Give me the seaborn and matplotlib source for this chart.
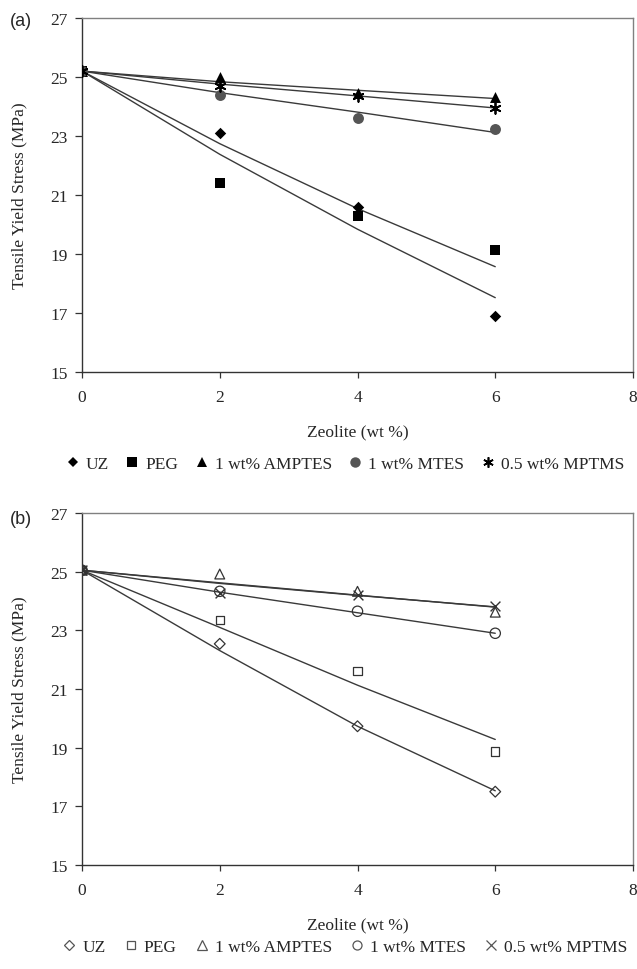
import matplotlib
matplotlib.use("Agg")
import matplotlib.pyplot as plt
from matplotlib.lines import Line2D
import seaborn as sns

# ---------------- data ----------------
zeolite = [0, 2, 4, 6]
x_ticks = [0, 2, 4, 6, 8]
y_ticks = [15, 17, 19, 21, 23, 25, 27]
series_names = ["UZ", "PEG", "1 wt% AMPTES", "1 wt% MTES", "0.5 wt% MPTMS"]

# panel (a) measured points
a_uz = [25.2, 23.1, 20.6, 16.9]
a_peg = [25.2, 21.4, 20.3, 19.15]
a_amptes = [25.2, 25.0, 24.47, 24.33]
a_mtes = [25.2, 24.38, 23.62, 23.23]
a_mptms = [25.2, 24.7, 24.36, 23.95]
# panel (a) trend lines
a_uz_fit = [25.2, 22.38, 19.84, 17.52]
a_peg_fit = [25.2, 22.74, 20.54, 18.57]
a_amptes_fit = [25.2, 24.84, 24.55, 24.27]
a_mtes_fit = [25.2, 24.47, 23.81, 23.12]
a_mptms_fit = [25.2, 24.76, 24.36, 23.95]

# panel (b) measured points
b_uz = [25.05, 22.54, 19.73, 17.5]
b_peg = [25.05, 23.36, 21.62, 18.87]
b_amptes = [25.05, 24.92, 24.33, 23.62]
b_mtes = [25.05, 24.33, 23.65, 22.9]
b_mptms = [25.05, 24.28, 24.2, 23.84]
# panel (b) trend lines
b_uz_fit = [25.05, 22.31, 19.73, 17.53]
b_peg_fit = [25.05, 23.1, 21.13, 19.28]
b_amptes_fit = [25.05, 24.62, 24.2, 23.79]
b_mtes_fit = [25.05, 24.3, 23.6, 22.9]
b_mptms_fit = [25.05, 24.6, 24.19, 23.8]

# ---------------- style ----------------
sns.set_style("white")
plt.rcParams["font.family"] = ["Liberation Serif", "DejaVu Serif"]
FS = 12.5
plt.rcParams["font.size"] = FS

W, H = 637, 970
fig = plt.figure(figsize=(W / 100, H / 100), dpi=100)

def frac_box(left, top, right, bottom):
    return [left / W, 1 - bottom / H, (right - left) / W, (bottom - top) / H]

ax_a = fig.add_axes(frac_box(82, 19, 633, 373))
ax_b = fig.add_axes(frac_box(82, 514, 633, 866))

LINE_C = "#3a3a3a"
STAR = (6, 2, 0)

def style_axes(ax):
    ax.set_xlim(0, 8)
    ax.set_ylim(15, 27)
    ax.set_xticks(x_ticks)
    ax.set_yticks(y_ticks)
    ax.tick_params(axis="x", direction="out", length=4, width=0.9, color="#333", pad=8.5, labelsize=FS)
    ax.tick_params(axis="y", direction="out", length=5, width=0.9, color="#333", pad=5, labelsize=FS)
    ax.tick_params(bottom=True, left=True)
    for s in ["left", "bottom"]:
        ax.spines[s].set_color("#333")
        ax.spines[s].set_linewidth(1.0)
    for s in ["top", "right"]:
        ax.spines[s].set_color("#808080")
        ax.spines[s].set_linewidth(1.0)
    ax.set_xlabel("Zeolite (wt %)", fontsize=FS, labelpad=13)
    ax.set_ylabel("Tensile Yield Stress (MPa)", fontsize=FS)
    ax.yaxis.set_label_coords(-0.099, 0.5)
    ax.grid(False)

# ---------------- panel (a) ----------------
for fit in [a_uz_fit, a_peg_fit, a_amptes_fit, a_mtes_fit, a_mptms_fit]:
    sns.lineplot(x=zeolite, y=fit, color=LINE_C, linewidth=1.0, ax=ax_a)

a_styles = [
    (a_uz, dict(marker="D", s=34, color="black", edgecolor="black", linewidth=0)),
    (a_peg, dict(marker="s", s=48, color="black", edgecolor="black", linewidth=0)),
    (a_amptes, dict(marker="^", s=62, color="black", edgecolor="black", linewidth=0)),
    (a_mtes, dict(marker="o", s=62, color="#555555", edgecolor="#555555", linewidth=0)),
    (a_mptms, dict(marker=STAR, s=60, color="black", linewidth=1.3)),
]
for vals, kw in a_styles:
    sns.scatterplot(x=zeolite, y=vals, ax=ax_a, zorder=3, **kw)

style_axes(ax_a)

# ---------------- panel (b) ----------------
for fit in [b_uz_fit, b_peg_fit, b_amptes_fit, b_mtes_fit, b_mptms_fit]:
    sns.lineplot(x=zeolite, y=fit, color=LINE_C, linewidth=1.0, ax=ax_b)

b_styles = [
    (b_uz, dict(marker="D", s=30, facecolor="none", edgecolor="#333", linewidth=0.9)),
    (b_peg, dict(marker="s", s=34, facecolor="none", edgecolor="#333", linewidth=0.9)),
    (b_amptes, dict(marker="^", s=50, facecolor="none", edgecolor="#333", linewidth=0.9)),
    (b_mtes, dict(marker="o", s=55, facecolor="none", edgecolor="#333", linewidth=0.9)),
    (b_mptms, dict(marker="x", s=50, color="#333", linewidth=1.0)),
]
for vals, kw in b_styles:
    sns.scatterplot(x=zeolite, y=vals, ax=ax_b, zorder=3, **kw)

style_axes(ax_b)

# ---------------- legends ----------------
def legend_handles(filled):
    if filled:
        specs = [("D", "black", "black", 5.5), ("s", "black", "black", 6.5),
                 ("^", "black", "black", 7.5), ("o", "#555555", "#555555", 7.5),
                 (STAR, "black", "black", 7.5)]
        return [Line2D([], [], linestyle="none", marker=m, markerfacecolor=fc,
                       markeredgecolor=ec, markersize=ms, markeredgewidth=1.2 if m == STAR else 0)
                for m, fc, ec, ms in specs]
    specs = [("D", 5.0), ("s", 5.5), ("^", 6.5), ("o", 6.5), ("x", 6.5)]
    return [Line2D([], [], linestyle="none", marker=m, markerfacecolor="none",
                   markeredgecolor="#555", color="#555", markersize=ms, markeredgewidth=0.9)
            for m, ms in specs]

for handles, yc, cs in [(legend_handles(True), 465, 0.95), (legend_handles(False), 948, 1.05)]:
    fig.legend(handles, series_names, loc="center", bbox_to_anchor=(345 / W, 1 - yc / H),
               ncol=5, frameon=False, fontsize=FS, handlelength=0.8, handletextpad=0.35,
               columnspacing=cs, borderpad=0, borderaxespad=0)

# ---------------- panel letters ----------------
fig.text(21 / W, 1 - 22 / H, "(a)", family=["Liberation Sans", "DejaVu Sans"],
         fontsize=13, ha="center", va="center")
fig.text(21 / W, 1 - 519 / H, "(b)", family=["Liberation Sans", "DejaVu Sans"],
         fontsize=13, ha="center", va="center")

fig.savefig("out.png", dpi=100, facecolor="white")
